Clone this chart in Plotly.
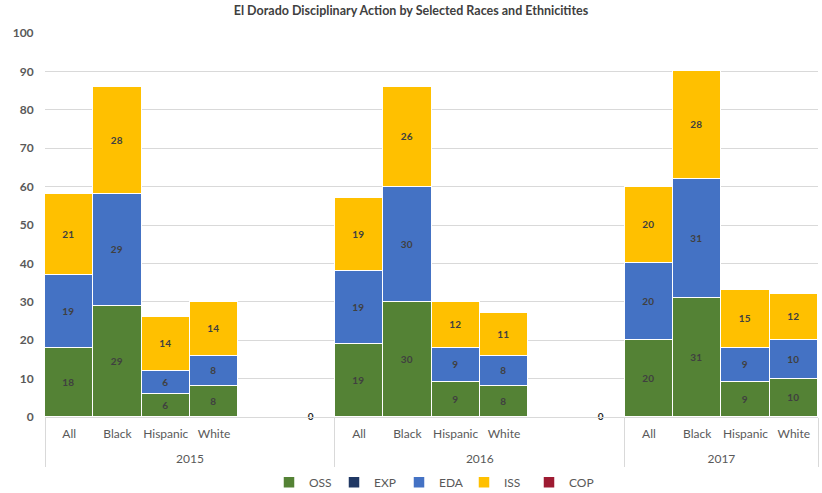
import plotly.graph_objects as go

# Spacer label for the empty slots; its taller glyph box also sets the gap to the year row
SPACER_A = '<span style="font-size:24px">&nbsp;</span>'
SPACER_B = '<span style="font-size:24px">&nbsp;&nbsp;</span>'

# Category layout: year groups with race sub-categories (two empty slots after 2015 and 2016)
years = ["2015"] * 6 + ["2016"] * 6 + ["2017"] * 4
races = ["All", "Black", "Hispanic", "White", SPACER_A, SPACER_B,
         "All", "Black", "Hispanic", "White", SPACER_A, SPACER_B,
         "All", "Black", "Hispanic", "White"]

# Counts per action type
oss = [18, 29, 6, 8, None, None, 19, 30, 9, 8, None, None, 20, 31, 9, 10]
exp = [None] * 16
eda = [19, 29, 6, 8, None, None, 19, 30, 9, 8, None, None, 20, 31, 9, 10]
iss = [21, 28, 14, 14, None, None, 19, 26, 12, 11, None, None, 20, 28, 15, 12]
cop = [None] * 16
# Empty slots carrying a zero total
blank_zero = [None, None, None, None, None, 0, None, None, None, None, None, 0, None, None, None, None]

series = [
    ("OSS", oss, "#548235"),
    ("EXP", exp, "#203864"),
    ("EDA", eda, "#4472C4"),
    ("ISS", iss, "#FFC000"),
    ("COP", cop, "#9E1B32"),
]

FONT = "Lato, 'Open Sans', sans-serif"
LABEL = "#404040"
TICK = "#595959"

fig = go.Figure()
for name, vals, color in series:
    fig.add_trace(go.Bar(
        name=name,
        x=[years, races],
        y=vals,
        marker=dict(color=color, line=dict(color="white", width=1.5)),
        text=[("" if v is None else str(v)) for v in vals],
        textposition="inside",
        insidetextanchor="middle",
        textangle=0,
        textfont=dict(family=FONT, size=10, color=LABEL, weight="bold"),
        hoverinfo="name+y",
    ))

fig.add_trace(go.Scatter(
    x=[years, races],
    y=blank_zero,
    mode="text",
    text=[("" if v is None else str(v)) for v in blank_zero],
    textposition="middle center",
    textfont=dict(family=FONT, size=10, color="#262626", weight="bold"),
    showlegend=False,
    cliponaxis=False,
    hoverinfo="skip",
))

fig.update_layout(
    width=822,
    height=493,
    barmode="stack",
    bargap=0,
    plot_bgcolor="white",
    paper_bgcolor="white",
    margin=dict(l=45, r=4, t=33, b=76, autoexpand=False),
    title=dict(
        text="El Dorado Disciplinary Action by Selected Races and Ethnicitites",
        x=0.5, xanchor="center", y=0.988, yanchor="top",
        font=dict(family=FONT, size=12.5, color=LABEL, weight="bold"),
    ),
    font=dict(family=FONT, size=12, color=TICK),
    legend=dict(
        orientation="h", x=0.5, xanchor="center",
        yref="container", y=0.022, yanchor="middle",
        font=dict(family=FONT, size=12, color=TICK),
        itemwidth=30, entrywidth=20, entrywidthmode="pixels",
        traceorder="normal",
    ),
    uniformtext=dict(minsize=6, mode="show"),
)

fig.update_yaxes(
    range=[0, 100], dtick=10,
    showgrid=True, gridcolor="#D9D9D9", gridwidth=1,
    zeroline=False, showline=False,
    tickfont=dict(family=FONT, size=12, color=TICK, weight="bold"),
    ticks="outside", ticklen=8, tickcolor="rgba(0,0,0,0)", automargin=False,
)
fig.update_xaxes(
    type="multicategory",
    range=[-0.5, 15.5],
    showline=True, linecolor="#D9D9D9", linewidth=1,
    showdividers=True, dividercolor="#D9D9D9", dividerwidth=1,
    tickfont=dict(family=FONT, size=12, color=TICK),
    tickangle=0,
    ticks="", ticklabelstandoff=6, automargin=False,
)

fig.write_html("out.html")
